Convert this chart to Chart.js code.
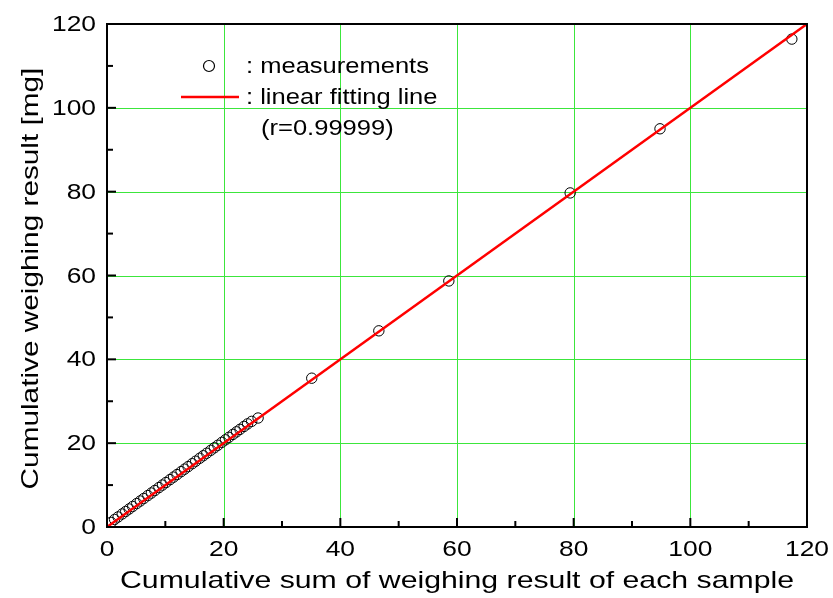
<!DOCTYPE html>
<html>
<head>
<meta charset="utf-8">
<script src="https://cdn.jsdelivr.net/npm/chart.js@4/dist/chart.umd.min.js"></script>
<style>
  html, body { margin: 0; padding: 0; background: #fff; }
  #wrap { width: 833px; height: 598px; position: relative; }
</style>
</head>
<body>
<div id="wrap"><canvas id="chart"></canvas></div>
<script>
// measured points (x = cumulative sum of single weighings, y = cumulative weighing)
const sumX = [0.7, 1.3, 1.9, 2.6, 3.2, 3.8, 4.4, 5.1, 5.7, 6.3, 7.0, 7.6, 8.2, 8.9, 9.5,
  10.1, 10.8, 11.4, 12.0, 12.7, 13.3, 13.9, 14.6, 15.2, 15.9, 16.5, 17.1, 17.8, 18.4, 19.0,
  19.7, 20.3, 20.9, 21.6, 22.2, 22.8, 23.5, 24.1, 24.8, 25.9,
  35.1, 46.6, 58.6, 79.4, 94.8, 117.4];
const cumY = [1.1, 1.8, 2.4, 3.1, 3.7, 4.3, 4.9, 5.6, 6.2, 6.8, 7.5, 8.1, 8.7, 9.4, 10.0,
  10.6, 11.3, 11.9, 12.5, 13.2, 13.8, 14.4, 15.1, 15.7, 16.4, 17.0, 17.6, 18.3, 18.9, 19.5,
  20.2, 20.8, 21.4, 22.1, 22.7, 23.3, 24.0, 24.6, 25.2, 26.0,
  35.5, 46.8, 58.7, 79.7, 95.0, 116.4];
// fitted line end points
const fitX = [0, 120];
const fitY = [0, 120];
const xTicks = [0, 20, 40, 60, 80, 100, 120];
const yTicks = [0, 20, 40, 60, 80, 100, 120];
const xTitle = 'Cumulative sum of weighing result of each sample';
const yTitle = 'Cumulative weighing result [mg]';

const FONT = "'Liberation Sans', Arial, sans-serif";
const GRID = 'rgb(60,230,60)';

const points = sumX.map((x, i) => ({ x: x, y: cumY[i] }));
const fitLine = fitX.map((x, i) => ({ x: x, y: fitY[i] }));

// the original uses a horizontally wide Arial, so text is drawn stretched
function wideText(ctx, text, x, y, size, sx, align, rot) {
  ctx.save();
  ctx.translate(x, y);
  if (rot) ctx.rotate(rot);
  ctx.scale(sx, 1);
  ctx.font = size + 'px ' + FONT;
  ctx.textAlign = align;
  ctx.textBaseline = 'middle';
  ctx.fillStyle = '#000';
  ctx.fillText(text, 0, 0);
  ctx.restore();
}

// green grid under the data (inner lines only)
const gridPlugin = {
  id: 'greenGrid',
  beforeDatasetsDraw(chart) {
    const { ctx, chartArea: a, scales } = chart;
    ctx.save();
    ctx.strokeStyle = GRID;
    ctx.lineWidth = 1;
    xTicks.slice(1, -1).forEach(v => {
      const px = Math.round(scales.x.getPixelForValue(v)) + 0.5;
      ctx.beginPath();
      ctx.moveTo(px, a.top);
      ctx.lineTo(px, a.bottom);
      ctx.stroke();
    });
    yTicks.slice(1, -1).forEach(v => {
      const py = Math.round(scales.y.getPixelForValue(v)) + 0.5;
      ctx.beginPath();
      ctx.moveTo(a.left, py);
      ctx.lineTo(a.right, py);
      ctx.stroke();
    });
    ctx.restore();
  }
};

// frame, inward ticks, labels and the text legend
const framePlugin = {
  id: 'frame',
  afterDraw(chart) {
    const { ctx, chartArea: a, scales } = chart;
    const xs = scales.x, ys = scales.y;
    ctx.save();
    ctx.strokeStyle = '#000';
    ctx.lineWidth = 2;
    ctx.strokeRect(a.left, a.top, a.right - a.left, a.bottom - a.top);
    for (let v = 0; v <= 120; v += 10) {
      const len = v % 20 === 0 ? 9 : 6;
      const px = xs.getPixelForValue(v);
      ctx.beginPath();
      ctx.moveTo(px, a.bottom);
      ctx.lineTo(px, a.bottom - len);
      ctx.stroke();
      const py = ys.getPixelForValue(v);
      ctx.beginPath();
      ctx.moveTo(a.left, py);
      ctx.lineTo(a.left + len, py);
      ctx.stroke();
    }
    // tick labels
    xTicks.forEach(v => wideText(ctx, String(v), xs.getPixelForValue(v), a.bottom + 23, 22, 1.2, 'center'));
    yTicks.forEach(v => wideText(ctx, String(v), a.left - 11, ys.getPixelForValue(v) + 1, 22, 1.2, 'right'));
    // axis titles
    wideText(ctx, xTitle, (a.left + a.right) / 2, 581, 24, 1.26, 'center');
    wideText(ctx, yTitle, 31, (a.top + a.bottom) / 2 + 3, 24, 1.24, 'center', -Math.PI / 2);
    // legend
    ctx.strokeStyle = '#000';
    ctx.lineWidth = 1.2;
    ctx.beginPath();
    ctx.arc(209, 66, 5.5, 0, Math.PI * 2);
    ctx.stroke();
    ctx.strokeStyle = '#ff0000';
    ctx.lineWidth = 2.5;
    ctx.beginPath();
    ctx.moveTo(181, 97);
    ctx.lineTo(239, 97);
    ctx.stroke();
    wideText(ctx, ': measurements', 246, 67, 22, 1.16, 'left');
    wideText(ctx, ': linear fitting line', 246, 98, 22, 1.16, 'left');
    wideText(ctx, '(r=0.99999)', 261, 129, 22, 1.16, 'left');
    ctx.restore();
  }
};

new Chart(document.getElementById('chart'), {
  type: 'scatter',
  data: {
    datasets: [
      {
        label: 'linear fitting line',
        data: fitLine,
        showLine: true,
        borderColor: '#ff0000',
        borderWidth: 2.5,
        pointRadius: 0,
        order: 0
      },
      {
        label: 'measurements',
        data: points,
        borderColor: '#000',
        backgroundColor: 'rgba(0,0,0,0)',
        borderWidth: 1,
        pointRadius: 5.2,
        order: 1
      }
    ]
  },
  options: {
    responsive: true,
    maintainAspectRatio: false,
    animation: false,
    layout: { padding: { top: 24, right: 26, left: 0, bottom: 0 } },
    plugins: { legend: { display: false }, tooltip: { enabled: false } },
    scales: {
      x: {
        type: 'linear',
        min: 0, max: 120,
        afterFit(s) { s.height = 71; },
        afterBuildTicks(s) { s.ticks = xTicks.map(v => ({ value: v })); },
        border: { display: false },
        grid: { display: false },
        ticks: { display: false }
      },
      y: {
        type: 'linear',
        min: 0, max: 120,
        afterFit(s) { s.width = 107; },
        afterBuildTicks(s) { s.ticks = yTicks.map(v => ({ value: v })); },
        border: { display: false },
        grid: { display: false },
        ticks: { display: false }
      }
    }
  },
  plugins: [gridPlugin, framePlugin]
});
</script>
</body>
</html>
